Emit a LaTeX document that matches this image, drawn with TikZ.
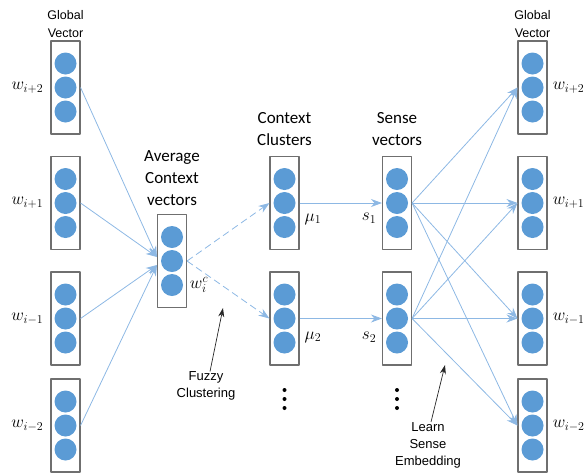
\documentclass[tikz,border=0pt]{standalone}
\usepackage{fontspec}
\setmainfont{Liberation Sans}
\newfontfamily\calfont{Carlito}
\usetikzlibrary{arrows.meta,positioning}
\definecolor{dotblue}{HTML}{5B9BD5}
\definecolor{linkblue}{HTML}{8DB8E4}
\definecolor{boxgray}{HTML}{6F6F6F}

\tikzset{
  vecbox/.style={draw=boxgray, line width=1.1pt, minimum width=29pt, minimum height=93pt, inner sep=0pt},
  unit/.style={circle, fill=dotblue, minimum size=22pt, inner sep=0pt},
  link/.style={draw=linkblue, line width=0.8pt, -{Stealth[length=11pt,width=8pt]}},
  pointer/.style={draw=black!85, line width=0.7pt, -{Stealth[length=9pt,width=6pt]}},
  note/.style={font=\fontsize{13}{17}\selectfont, align=center, inner sep=0pt},
  head/.style={font=\calfont\fontsize{17}{22}\selectfont, align=center, inner sep=0pt},
  gtitle/.style={font=\fontsize{12.5}{17.5}\selectfont, align=center, inner sep=0pt},
  mlabel/.style={font=\fontsize{17}{20}\selectfont, inner sep=0pt},
}

% a vector: frame plus three units
\newcommand{\vecstack}[3]{%
  \node[vecbox] (#1) at (#2,#3) {};
  \node[unit] (#1-1) at (#2,#3-24) {};
  \node[unit] (#1-2) at (#2,#3) {};
  \node[unit] (#1-3) at (#2,#3+24) {};
}

\begin{document}
\begin{tikzpicture}[x=1pt, y=-1pt, line join=round, >=stealth]
\useasboundingbox (0,0) rectangle (588,472);

% global vectors, left
\vecstack{gl1}{65.5}{87.5}
\vecstack{gl2}{65.5}{203}
\vecstack{gl3}{65.5}{318.5}
\vecstack{gl4}{65.5}{425.5}
% average context vector
\vecstack{avg}{172}{261}
% context clusters and sense vectors
\vecstack{cc1}{284.5}{203}
\vecstack{cc2}{284.5}{318.5}
\vecstack{sv1}{397}{203}
\vecstack{sv2}{397}{318.5}
% global vectors, right
\vecstack{gr1}{532.5}{87.5}
\vecstack{gr2}{532.5}{203}
\vecstack{gr3}{532.5}{318.5}
\vecstack{gr4}{532.5}{425.5}

% titles
\node[gtitle] (gltitle) at (65.5,24) {Global\\Vector};
\node[gtitle] (grtitle) at (532.5,24) {Global\\Vector};
\node[head] (avgtitle) at (172,178) {Average\\Context\\vectors};
\node[head] (cctitle) at (284.5,129) {Context\\Clusters};
\node[head] (svtitle) at (397,129) {Sense\\vectors};

% word labels
\node[mlabel, left=7pt of gl1] (wl1) {$w_{i+2}$};
\node[mlabel, left=7pt of gl2] (wl2) {$w_{i+1}$};
\node[mlabel, left=7pt of gl3] (wl3) {$w_{i-1}$};
\node[mlabel, left=7pt of gl4] (wl4) {$w_{i-2}$};
\node[mlabel, right=5pt of gr1] (wr1) {$w_{i+2}$};
\node[mlabel, right=5pt of gr2] (wr2) {$w_{i+1}$};
\node[mlabel, right=5pt of gr3] (wr3) {$w_{i-1}$};
\node[mlabel, right=5pt of gr4] (wr4) {$w_{i-2}$};
\node[mlabel] (wc) at (199,285) {$w_i^c$};
\node[mlabel] (mu1) at (313,219) {$\mu_1$};
\node[mlabel] (mu2) at (313,337) {$\mu_2$};
\node[mlabel] (s1) at (369,218) {$s_1$};
\node[mlabel] (s2) at (369,337) {$s_2$};

% context words to average
\draw[link] (gl1.east) -- ([yshift=4pt]avg.west);
\draw[link] (gl2.east) -- ([yshift=4pt]avg.west);
\draw[link] (gl3.east) -- ([yshift=-4pt]avg.west);
\draw[link] (gl4.east) -- ([yshift=-4pt]avg.west);
% fuzzy assignment to clusters
\draw[link, dashed, dash pattern=on 7pt off 4pt] (avg.east) -- (cc1.west);
\draw[link, dashed, dash pattern=on 7pt off 4pt] (avg.east) -- (cc2.west);
\draw[link] (cc1.east) -- (sv1.west);
\draw[link] (cc2.east) -- (sv2.west);
% senses to global vectors
\foreach \s in {sv1,sv2}
  \foreach \g in {gr1,gr2,gr3,gr4}
    \draw[link] (\s.east) -- (\g.west);

% more clusters and senses
\foreach \yy in {390,399,408}{
  \fill (284.5,\yy) circle [radius=2pt];
  \fill (397,\yy) circle [radius=2pt];
}

% annotations
\node[note] (fuzzy) at (206,386) {Fuzzy\\Clustering};
\node[note] (learn) at (428,445) {Learn\\Sense\\Embedding};
\draw[pointer] ([xshift=4pt]fuzzy.north) -- (223,308);
\draw[pointer] ([xshift=3pt]learn.north) -- (445,365);
\end{tikzpicture}
\end{document}
